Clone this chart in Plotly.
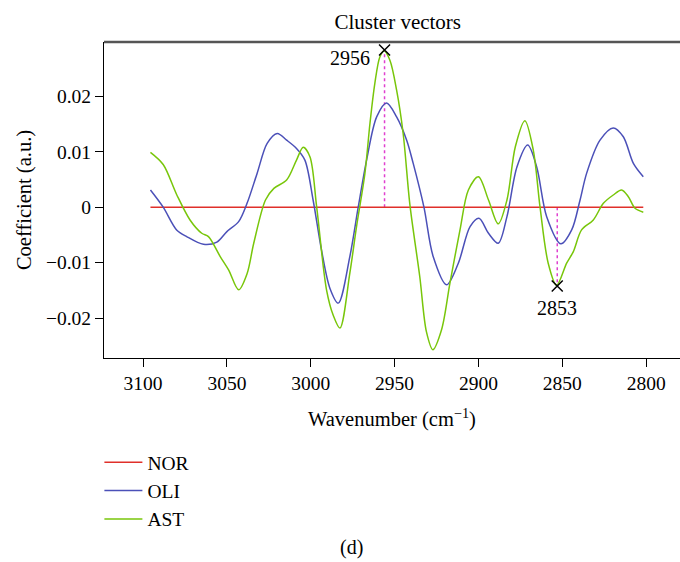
import plotly.graph_objects as go

# ---- data ----
nor_wn = [3095.6, 3050, 3000, 2950, 2900, 2850, 2801.7]
nor_val = [0, 0, 0, 0, 0, 0, 0]

oli_wn = [3095.6, 3088, 3080, 3074, 3064, 3056, 3050, 3043, 3038, 3032, 3026, 3020,
          3014.4, 3008.5, 3003.5, 2998.6, 2993.6, 2988.6, 2983.6, 2976.7, 2971.7,
          2966.7, 2960.7, 2954.8, 2948.8, 2942.8, 2938.9, 2932.5, 2927, 2919, 2912,
          2905, 2899.7, 2894, 2888.2, 2883, 2877, 2870.6, 2865.3, 2859.3, 2850.8,
          2844.4, 2839.4, 2835.5, 2827.5, 2819.6, 2813.6, 2807.6, 2801.7]
oli_val = [0.0031, 0.0000, -0.0041, -0.0053, -0.0067, -0.0063, -0.0044, -0.0026, 0.0007,
           0.0061, 0.0115, 0.0133, 0.0121, 0.0106, 0.0085, 0.0013, -0.0077, -0.0146,
           -0.0173, -0.0089, 0.0000, 0.0085, 0.0163, 0.0188, 0.0163, 0.0121, 0.0079,
           0.0000, -0.0089, -0.0140, -0.0101, -0.0035, -0.0020, -0.0047, -0.0065,
           -0.0017, 0.0073, 0.0112, 0.0073, -0.0017, -0.0066, -0.0041, 0.0013, 0.0061,
           0.0121, 0.0143, 0.0127, 0.0079, 0.0055]

ast_wn = [3095.6, 3088, 3080, 3072, 3065, 3061, 3054, 3049, 3043, 3038, 3034, 3027, 3022,
          3014.4, 3008.5, 3004.5, 3000.5, 2996.5, 2990.6, 2986.6, 2982.6, 2976.7,
          2972.7, 2967.7, 2964.7, 2961.8, 2958.8, 2956.3, 2952.8, 2948.8, 2944.9,
          2940.9, 2935, 2931, 2927.2, 2922, 2917, 2911, 2906, 2900, 2894, 2888.2, 2883,
          2878, 2872.3, 2867.3, 2863.3, 2858.4, 2853.4, 2847.4, 2843.4, 2838.5, 2831.5,
          2825.5, 2819.6, 2814.6, 2810.6, 2806.6, 2801.7]
ast_val = [0.0099, 0.0077, 0.0023, -0.0023, -0.0047, -0.0053, -0.0089, -0.0113, -0.0149,
           -0.0120, -0.0065, 0.0013, 0.0034, 0.0049, 0.0085, 0.0108, 0.0091, 0.0001,
           -0.0149, -0.0195, -0.0218, -0.0119, -0.0035, 0.0061, 0.0151, 0.0223, 0.0271,
           0.0282, 0.0265, 0.0211, 0.0133, 0.0005, -0.0125, -0.0225, -0.0257, -0.0221,
           -0.0137, -0.0041, 0.0031, 0.0055, 0.0013, -0.0030, 0.0013, 0.0109, 0.0156,
           0.0103, 0.0001, -0.0101, -0.0141, -0.0101, -0.0080, -0.0041, -0.0023, 0.0007,
           0.0022, 0.0031, 0.0019, -0.0002, -0.0009]

peak_wn = [2956, 2853]
peak_val = [0.02836, -0.0142]
peak_labels = ["2956", "2853"]

x_ticks = [3100, 3050, 3000, 2950, 2900, 2850, 2800]
y_ticks = [-0.02, -0.01, 0, 0.01, 0.02]
y_ticktext = ["\u22120.02", "\u22120.01", "0", "0.01", "0.02"]

FONT = "Liberation Serif, Times New Roman, serif"

fig = go.Figure()

# dotted guide lines from zero to the marked extrema
for w, v in zip(peak_wn, peak_val):
    fig.add_trace(go.Scatter(x=[w, w], y=[0, v], mode="lines",
                             line=dict(color="#e040d0", width=1.5, dash="dot"),
                             showlegend=False, hoverinfo="skip"))

fig.add_trace(go.Scatter(x=nor_wn, y=nor_val, mode="lines", name="NOR",
                         line=dict(color="#e0302a", width=1.5), legendgroup="a"))
fig.add_trace(go.Scatter(x=oli_wn, y=oli_val, mode="lines", name="OLI",
                         line=dict(color="#4b50b8", width=1.5, shape="spline", smoothing=0.9),
                         legendgroup="b"))
fig.add_trace(go.Scatter(x=ast_wn, y=ast_val, mode="lines", name="AST",
                         line=dict(color="#78c60a", width=1.5, shape="spline", smoothing=0.9),
                         legendgroup="c"))

fig.add_trace(go.Scatter(x=peak_wn, y=peak_val, mode="markers",
                         marker=dict(symbol="x-thin-open", size=11, color="black",
                                     line=dict(color="black", width=1.5)),
                         showlegend=False, hoverinfo="skip"))

fig.add_annotation(x=peak_wn[0], y=peak_val[0], text=peak_labels[0], showarrow=False,
                   xanchor="right", yanchor="middle", xshift=-13, yshift=-8,
                   font=dict(family=FONT, size=20, color="black"))
fig.add_annotation(x=peak_wn[1], y=peak_val[1], text=peak_labels[1], showarrow=False,
                   xanchor="center", yanchor="middle", xshift=0, yshift=-22,
                   font=dict(family=FONT, size=20, color="black"))

fig.add_annotation(x=0.43, y=-0.601, xref="paper", yref="paper", text="(d)",
                   showarrow=False, xanchor="center", yanchor="middle",
                   font=dict(family=FONT, size=20, color="black"))

# top frame line
fig.add_shape(type="line", xref="paper", yref="paper", x0=0, x1=1, y0=1, y1=1,
              line=dict(color="#555555", width=2.5))

fig.update_layout(
    width=680, height=562,
    margin=dict(l=104, r=0, t=42, b=204),
    paper_bgcolor="white", plot_bgcolor="white",
    font=dict(family=FONT, size=19, color="black"),
    title=dict(text="Cluster vectors", x=0.51, xref="paper", xanchor="center",
               y=1 - 22 / 562, yanchor="middle",
               font=dict(family=FONT, size=21, color="black")),
    showlegend=True,
    legend=dict(x=-0.008, xanchor="left", y=-0.269, yanchor="top",
                orientation="v", tracegroupgap=0, itemwidth=38,
                bgcolor="rgba(0,0,0,0)",
                font=dict(family=FONT, size=19.5, color="black")),
)

fig.update_xaxes(range=[3123.3, 2779.8], tickvals=x_ticks,
                 ticktext=[str(t) for t in x_ticks],
                 showgrid=False, zeroline=False, showline=True, linecolor="black",
                 linewidth=1, ticks="outside", ticklen=8, tickcolor="black",
                 tickfont=dict(family=FONT, size=19.5),
                 title=dict(text="Wavenumber (cm<sup>\u22121</sup>)", standoff=18,
                            font=dict(family=FONT, size=20.5)))
fig.update_yaxes(range=[-0.0272, 0.0298], tickvals=y_ticks, ticktext=y_ticktext,
                 showgrid=False, zeroline=False, showline=True, linecolor="black",
                 linewidth=1, ticks="outside", ticklen=8, tickcolor="black",
                 tickfont=dict(family=FONT, size=19.5),
                 title=dict(text="Coefficient (a.u.)", standoff=8,
                            font=dict(family=FONT, size=20.5)))

fig.write_html("out.html")
